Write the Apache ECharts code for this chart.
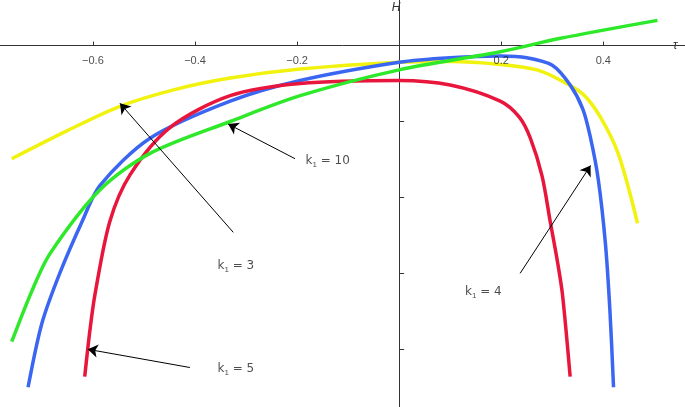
<!DOCTYPE html>
<html>
<head>
<meta charset="UTF-8">
<script src="https://cdn.jsdelivr.net/npm/echarts@6/dist/echarts.min.js"></script>
<style>body{margin:0;background:#fff}#main{width:685px;height:407px}</style>
</head>
<body>
<div id="main"></div>
<script>
// curves, [tau, H]
var yellow = [[-0.759,-7.45],[-0.65,-5.6],[-0.547,-4.0],[-0.44,-2.9],[-0.331,-2.14],[-0.194,-1.55],[0,-1.1],[0.1,-1.05],[0.198,-1.24],[0.27,-1.6],[0.316,-2.28],[0.36,-3.2],[0.394,-4.7],[0.43,-7.2],[0.467,-11.7]];
var blue = [[-0.727,-22.5],[-0.7,-18.3],[-0.665,-15],[-0.62,-11.5],[-0.586,-9.2],[-0.488,-6.1],[-0.331,-3.66],[-0.194,-2.3],[0,-1.1],[0.1,-0.8],[0.198,-0.69],[0.25,-0.8],[0.3,-1.3],[0.335,-2.6],[0.36,-4.2],[0.375,-6.1],[0.39,-8.8],[0.404,-13],[0.413,-17.5],[0.42,-22.5]];
var red = [[-0.616,-21.8],[-0.606,-18.8],[-0.596,-16.4],[-0.567,-11.6],[-0.527,-8.5],[-0.449,-5.4],[-0.331,-3.3],[-0.194,-2.5],[0,-2.3],[0.1,-2.6],[0.198,-3.66],[0.235,-4.7],[0.257,-6.1],[0.28,-8.6],[0.296,-11.6],[0.31,-14.2],[0.32,-16.4],[0.335,-21.8]];
var green = [[-0.759,-19.5],[-0.72,-16.2],[-0.684,-13.7],[-0.586,-9.5],[-0.488,-7.1],[-0.331,-5.0],[-0.194,-3.3],[0,-1.6],[0.198,-0.41],[0.316,0.48],[0.506,1.66]];
var xLabels = [-0.6,-0.4,-0.2,0.2,0.4];
var xTicks = [-0.6,-0.4,-0.2,0,0.2,0.4];
var yLabels = [-5,-10,-15,-20];
var yTicks = [0,-5,-10,-15,-20];
// annotation arrows: [from, to, label]
var arrows = [
  [[-0.204,-7.45],[-0.335,-5.17],'10'],
  [[-0.325,-12.3],[-0.547,-3.8],'3'],
  [[0.237,-15.0],[0.375,-7.9],'4'],
  [[-0.41,-21.2],[-0.61,-20.0],'5']
];
var labelPos = [[-0.14,-7.6],[-0.32,-14.5],[0.165,-16.2],[-0.32,-21.3]];

var chart = echarts.init(document.getElementById('main'));
function curve(d,c){
  return {type:'line',data:d,smooth:0.3,showSymbol:false,lineStyle:{color:c,width:3.5},z:2};
}
var series = [curve(yellow,'#f2f20f'),curve(blue,'#3a66f2'),curve(red,'#e8163c'),curve(green,'#2ee82a')];
series.push({
  type:'line',data:[],
  markLine:{silent:true,symbol:['none','arrow'],symbolSize:10,
    lineStyle:{color:'#000',width:1,type:'solid'},label:{show:false},
    data:arrows.map(function(a){return [{coord:a[0]},{coord:a[1]}];})}
});
series.push({
  type:'scatter',symbolSize:0,
  data:labelPos.map(function(p,i){return {value:p,name:arrows[i][2]};}),
  label:{show:true,position:'inside',formatter:function(p){return '{a|k}{s|1}{a| = '+p.name+'}';},
    rich:{a:{fontSize:12,color:'#222',fontFamily:'DejaVu Sans'},s:{fontSize:8,color:'#222',padding:[8,0,0,0]}}}
});
// x tick labels placed just under the zero line
series.push({
  type:'scatter',symbolSize:0,
  data:xLabels.map(function(v){return [v,-1.0];}),
  label:{show:true,position:'inside',color:'#222',fontSize:11,
    formatter:function(p){var v=p.value[0];return v<0?'\u2212'+(-v).toFixed(1):v.toFixed(1);}}
});
chart.setOption({
  animation:false,
  grid:{left:0,right:0,top:0,bottom:0,containLabel:false,outerBoundsMode:'none'},
  xAxis:{type:'value',min:-0.782,max:0.56,name:'τ',nameLocation:'end',nameGap:-12,
    nameTextStyle:{fontStyle:'italic',color:'#333',fontSize:12,padding:[26,0,0,0]},
    axisLine:{onZero:true,lineStyle:{color:'#333'}},
    axisTick:{show:true,customValues:xTicks,length:4,inside:true},
    axisLabel:{show:false},
    splitLine:{show:false}},
  yAxis:{type:'value',min:-23.8,max:3,name:'H',nameLocation:'end',nameGap:-14,
    nameTextStyle:{fontStyle:'italic',color:'#333',fontSize:12,padding:[0,0,0,-6]},
    axisLine:{onZero:true,lineStyle:{color:'#333'}},
    axisTick:{show:true,customValues:yTicks,length:5,inside:true},
    axisLabel:{customValues:yLabels,color:'#222',fontSize:11,margin:6,formatter:function(v){return '\u2212'+(-v);}},
    splitLine:{show:false}},
  series:series
});
</script>
</body>
</html>
